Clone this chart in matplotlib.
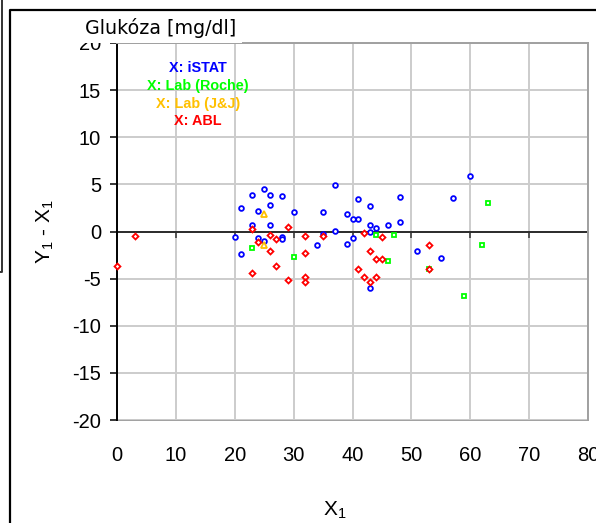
import matplotlib
matplotlib.use("Agg")
import matplotlib.pyplot as plt
from matplotlib.lines import Line2D

# Glucose difference plot: Y1 - X1 against X1, one series per reference method
istat_x = [20, 21, 21, 23, 23, 24, 24, 25, 25, 26, 26, 26, 28, 28, 28, 30, 34, 35, 35,
           37, 37, 39, 39, 40, 40, 41, 41, 43, 43, 43, 43, 44, 46, 48, 48, 51, 55, 57, 60]
istat_y = [-0.54, 2.53, -2.34, 3.87, 0.69, 2.2, -0.69, 4.5, -0.97, 3.87, 2.8, 0.69, 3.73, -0.6, -0.83,
           2.07, -1.46, 2.07, -0.3, 4.93, 0.1, 1.9, -1.28, 1.29, -0.69, 3.41, 1.29, 2.67, 0.69,
           -0.08, -5.99, 0.37, 0.69, 3.7, 1.0, -2.03, -2.81, 3.6, 5.85]

roche_x = [23, 30, 44, 47, 46, 53, 62, 63, 59]
roche_y = [-1.75, -2.66, -0.37, -0.37, -3.13, -4.0, -1.43, 2.99, -6.87]

jj_x = [25, 25]
jj_y = [1.82, -1.43]

abl_x = [0, 3, 23, 23, 24, 26, 26, 27, 27, 29, 29, 32, 32, 32, 32, 35,
         41, 42, 42, 43, 43, 44, 44, 45, 45, 53, 53]
abl_y = [-3.62, -0.48, 0.31, -4.4, -1.07, -0.33, -2.1, -0.75, -3.62, 0.45, -5.14,
         -0.48, -2.28, -4.83, -5.31, -0.48, -3.95, -0.12, -4.83, -2.1, -5.31,
         -2.87, -4.83, -0.61, -2.87, -1.39, -3.95]

series_labels = ["X: iSTAT", "X: Lab (Roche)", "X: Lab (J&J)", "X: ABL"]
series_colors = ["#0000ff", "#00ff00", "#ffc000", "#ff0000"]

x_ticks = [0, 10, 20, 30, 40, 50, 60, 70, 80]
y_ticks = [-20, -15, -10, -5, 0, 5, 10, 15, 20]

plt.rcParams["font.family"] = ["Liberation Sans", "DejaVu Sans"]
plt.rcParams["mathtext.default"] = "regular"
plt.rcParams["axes.unicode_minus"] = False

W, H = 596, 523
fig = plt.figure(figsize=(W / 100, H / 100), dpi=100)
ax = fig.add_axes([117 / W, (H - 420) / H, 471 / W, 377 / H])

grid_c = "#cccccc"
edge_c = "#a0a0a0"

ax.set_xlim(0, 80)
ax.set_ylim(-20, 20)
ax.set_xticks(x_ticks)
ax.set_yticks(y_ticks)
ax.grid(True, color=grid_c, linewidth=1.4, zorder=0)
ax.set_axisbelow(True)

# the category axis crosses at zero, labels sit under the plot
ax.spines["bottom"].set_position(("data", 0))
ax.spines["bottom"].set_color("black")
ax.spines["bottom"].set_linewidth(1.1)
ax.spines["bottom"].set_zorder(1.5)
ax.spines["left"].set_color("black")
ax.spines["left"].set_linewidth(1.4)
for s in ("top", "right"):
    ax.spines[s].set_color(edge_c)
    ax.spines[s].set_linewidth(1.4)
ax.tick_params(axis="x", direction="out", length=4.5, width=1.1, color="#333333",
               labelbottom=False)
ax.tick_params(axis="y", direction="out", length=5, width=1.1, labelsize=14.5, pad=6.5)

sec = ax.secondary_xaxis("bottom")
sec.set_xticks(x_ticks)
sec.tick_params(length=0, labelsize=14.5, pad=19)
sec.spines["bottom"].set_color(edge_c)
sec.spines["bottom"].set_linewidth(1.4)

ax.plot(istat_x, istat_y, "o", ms=3.4, mew=1.3, mfc="white", mec=series_colors[0],
        linestyle="none", zorder=3, clip_on=False)
ax.plot(roche_x, roche_y, "s", ms=3.1, mew=1.3, mfc="white", mec=series_colors[1],
        linestyle="none", zorder=3, clip_on=False)
ax.plot(jj_x, jj_y, "^", ms=4.2, mew=1.3, mfc="white", mec=series_colors[2],
        linestyle="none", zorder=3, clip_on=False)
ax.plot(abl_x, abl_y, "D", ms=3.0, mew=1.3, mfc="white", mec=series_colors[3],
        linestyle="none", zorder=4, clip_on=False)

# series key written as coloured text
for i, (lab, col) in enumerate(zip(series_labels, series_colors)):
    ax.text(13.8, 17.3 - 1.86 * i, lab, color=col, fontsize=10.4, fontweight="bold",
            ha="center", va="center")

fig.text(161 / W, 1 - 33.5 / H, "Glukóza [mg/dl]", family="DejaVu Sans", fontsize=13.7,
         ha="center", va="baseline",
         bbox=dict(facecolor="white", edgecolor="none", pad=4), zorder=10)
fig.text(45 / W, 1 - 232 / H, "Y$_1$ - X$_1$", fontsize=15, rotation=90,
         ha="center", va="center")
fig.text(335 / W, 1 - 510 / H, "X$_1$", fontsize=15, ha="center", va="center")


def px_line(xs, ys, **kw):
    fig.add_artist(Line2D([x / W for x in xs], [1 - y / H for y in ys],
                          transform=fig.transFigure, zorder=20, **kw))


# window frames around the chart
px_line([10, 10, W], [H, 10, 10], color="black", linewidth=1.6)
px_line([2, 2, 0], [0, 272, 272], color="#333333", linewidth=1.4)

fig.savefig("out.png", dpi=100)
